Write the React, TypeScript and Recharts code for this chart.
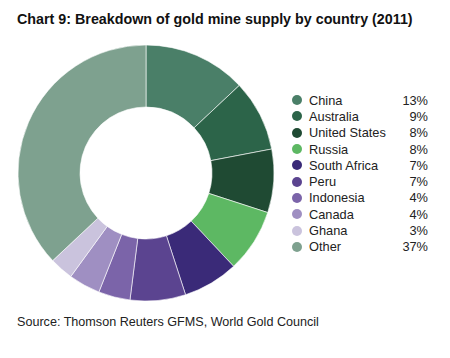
import React from "react";
import { Cell, Legend, Pie, PieChart } from "recharts";

const countries = [
  "China",
  "Australia",
  "United States",
  "Russia",
  "South Africa",
  "Peru",
  "Indonesia",
  "Canada",
  "Ghana",
  "Other",
];
const shares = [13, 9, 8, 8, 7, 7, 4, 4, 3, 37];
const colors = [
  "#4a7f68",
  "#2c6449",
  "#1f4a33",
  "#5db863",
  "#3a2a78",
  "#5b4490",
  "#7b64a9",
  "#9f8fc2",
  "#cac3dd",
  "#7ea18f",
];

const data = countries.map((name, i) => ({ name, value: shares[i] }));

const font = "'Liberation Sans', Arial, sans-serif";

function LegendList(): JSX.Element {
  return (
    <div style={{ fontFamily: font, fontSize: 12.8, color: "#222" }}>
      {data.map((d, i) => (
        <div key={d.name} style={{ display: "flex", alignItems: "center", height: 16.3 }}>
          <span
            style={{
              width: 10,
              height: 10,
              borderRadius: 5,
              background: colors[i],
              marginRight: 7,
              flex: "none",
            }}
          />
          <span style={{ flex: 1 }}>{d.name}</span>
          <span style={{ width: 30, textAlign: "right" }}>{`${d.value}%`}</span>
        </div>
      ))}
    </div>
  );
}

export default function App(): JSX.Element {
  return (
    <div style={{ position: "relative", width: 450, height: 358, margin: -8, background: "#fff" }}>
      <div
        style={{
          position: "absolute",
          left: 17,
          top: 11,
          fontFamily: font,
          fontWeight: "bold",
          fontSize: 14.3,
          color: "#111",
          whiteSpace: "nowrap",
        }}
      >
        Chart 9: Breakdown of gold mine supply by country (2011)
      </div>
      <PieChart width={450} height={358} margin={{ top: 0, right: 0, bottom: 0, left: 0 }}>
        <Pie
          data={data}
          dataKey="value"
          nameKey="name"
          cx={146}
          cy={173}
          innerRadius={66}
          outerRadius={128}
          startAngle={90}
          endAngle={-270}
          stroke="#ffffff"
          strokeWidth={0.6}
          isAnimationActive={false}
        >
          {data.map((d, i) => (
            <Cell key={d.name} fill={colors[i]} />
          ))}
        </Pie>
        <Legend
          layout="vertical"
          content={() => <LegendList />}
          wrapperStyle={{ position: "absolute", left: 292, top: 92, width: 136 }}
        />
      </PieChart>
      <div
        style={{
          position: "absolute",
          left: 17,
          top: 315,
          fontFamily: font,
          fontSize: 12.6,
          color: "#222",
          whiteSpace: "nowrap",
        }}
      >
        Source: Thomson Reuters GFMS, World Gold Council
      </div>
    </div>
  );
}
